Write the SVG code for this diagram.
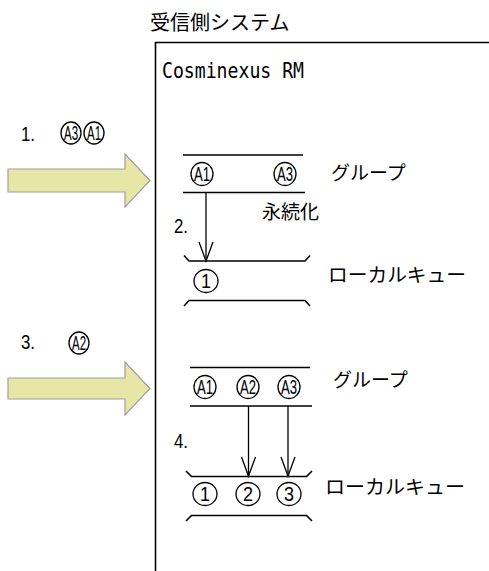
<svg xmlns="http://www.w3.org/2000/svg" width="489" height="571" viewBox="0 0 489 571">
<defs>
<style>
.jp{font-family:"Noto Sans CJK JP","Noto Sans",sans-serif;font-size:19px;fill:#000}
.num{font-family:"Liberation Sans",Arial,sans-serif;font-size:20px;fill:#000}
.ct{font-family:"Liberation Sans",Arial,sans-serif;font-size:20px;fill:#000;text-anchor:middle}
.ln{stroke:#000;stroke-width:1.6;fill:none}
.cir{fill:#fff;stroke:#000;stroke-width:1.3}
.big{fill:#e6e6a6;stroke:#a0a0a0;stroke-width:1.2}
.con{stroke:#000;stroke-width:1.3;fill:none}
</style>
</defs>
<rect width="489" height="571" fill="#fff"/>

<g id="title">
<text class="jp" x="150" y="30" style="font-size:20px">受信側システム</text>
</g>

<g id="system">
<path class="ln" d="M155.5,571 V42.5 H489"/>
<text x="162" y="78" font-family="DejaVu Sans Mono, monospace" font-size="21" textLength="142" lengthAdjust="spacingAndGlyphs">Cosminexus RM</text>
</g>

<g id="step1">
<text class="num" x="21" y="141" textLength="14" lengthAdjust="spacingAndGlyphs">1.</text>
<ellipse class="cir" cx="71" cy="133" rx="10" ry="11"/>
<text class="ct" x="71" y="140" textLength="14" lengthAdjust="spacingAndGlyphs">A3</text>
<ellipse class="cir" cx="94" cy="133" rx="10" ry="11"/>
<text class="ct" x="94" y="140" textLength="14" lengthAdjust="spacingAndGlyphs">A1</text>
<polygon class="big" points="8,169 125,169 125,154 150,180.5 125,207 125,192 8,192"/>
</g>

<g id="group1">
<line class="ln" x1="183" y1="155" x2="303" y2="155"/>
<line class="ln" x1="183" y1="192.5" x2="305" y2="192.5"/>
<ellipse class="cir" cx="202" cy="174" rx="11" ry="11.5"/>
<text class="ct" x="202" y="181" textLength="16" lengthAdjust="spacingAndGlyphs">A1</text>
<ellipse class="cir" cx="285" cy="174" rx="11" ry="11.5"/>
<text class="ct" x="285" y="181" textLength="16" lengthAdjust="spacingAndGlyphs">A3</text>
<text class="jp" x="331" y="180">グループ</text>
<text class="jp" x="262" y="219">永続化</text>
</g>

<g id="queue1">
<path class="ln" d="M184,255.5 L189,261 H305 L310,255.5"/>
<path class="ln" d="M184,306 L189,300.5 H305 L310,306"/>
<ellipse class="cir" cx="206" cy="281" rx="12" ry="11.5"/>
<text class="ct" x="206" y="288" textLength="10" lengthAdjust="spacingAndGlyphs">1</text>
<text class="jp" x="328" y="282" textLength="138" lengthAdjust="spacingAndGlyphs">ローカルキュー</text>
</g>

<g id="step3">
<text class="num" x="21" y="349" textLength="14" lengthAdjust="spacingAndGlyphs">3.</text>
<ellipse class="cir" cx="79" cy="343" rx="10" ry="11"/>
<text class="ct" x="79" y="350" textLength="14" lengthAdjust="spacingAndGlyphs">A2</text>
<polygon class="big" points="8,378 125,378 125,362 150,388.5 125,415 125,399 8,399"/>
</g>

<g id="group2">
<line class="ln" x1="190" y1="367.5" x2="310" y2="367.5"/>
<line class="ln" x1="190" y1="406" x2="312" y2="406"/>
<ellipse class="cir" cx="205" cy="387" rx="11" ry="11.5"/>
<text class="ct" x="205" y="394" textLength="16" lengthAdjust="spacingAndGlyphs">A1</text>
<ellipse class="cir" cx="248" cy="387" rx="11" ry="11.5"/>
<text class="ct" x="248" y="394" textLength="16" lengthAdjust="spacingAndGlyphs">A2</text>
<ellipse class="cir" cx="289" cy="387" rx="11" ry="11.5"/>
<text class="ct" x="289" y="394" textLength="16" lengthAdjust="spacingAndGlyphs">A3</text>
<text class="jp" x="333" y="387">グループ</text>
</g>

<g id="queue2">
<path class="ln" d="M186,471 L191.5,476.5 H306.5 L312,471"/>
<path class="ln" d="M186,521 L191.5,515.5 H306.5 L312,521"/>
<ellipse class="cir" cx="205" cy="494" rx="12" ry="11.5"/>
<text class="ct" x="205" y="501" textLength="10" lengthAdjust="spacingAndGlyphs">1</text>
<ellipse class="cir" cx="248" cy="494" rx="12" ry="11.5"/>
<text class="ct" x="248" y="501" textLength="10" lengthAdjust="spacingAndGlyphs">2</text>
<ellipse class="cir" cx="289" cy="494" rx="12" ry="11.5"/>
<text class="ct" x="289" y="501" textLength="10" lengthAdjust="spacingAndGlyphs">3</text>
<text class="jp" x="325" y="494" textLength="140" lengthAdjust="spacingAndGlyphs">ローカルキュー</text>
</g>

<g id="connectors">
<line class="con" x1="206" y1="193" x2="206" y2="261"/>
<polyline class="con" points="199,242 206,261 213,242"/>
<text class="num" x="174" y="233" textLength="14" lengthAdjust="spacingAndGlyphs">2.</text>
<line class="con" x1="248.5" y1="406" x2="248.5" y2="476"/>
<polyline class="con" points="241.5,457 248.5,476 255.5,457"/>
<line class="con" x1="288" y1="406" x2="288" y2="476"/>
<polyline class="con" points="281,457 288,476 295,457"/>
<text class="num" x="174" y="448" textLength="14" lengthAdjust="spacingAndGlyphs">4.</text>
</g>
</svg>
